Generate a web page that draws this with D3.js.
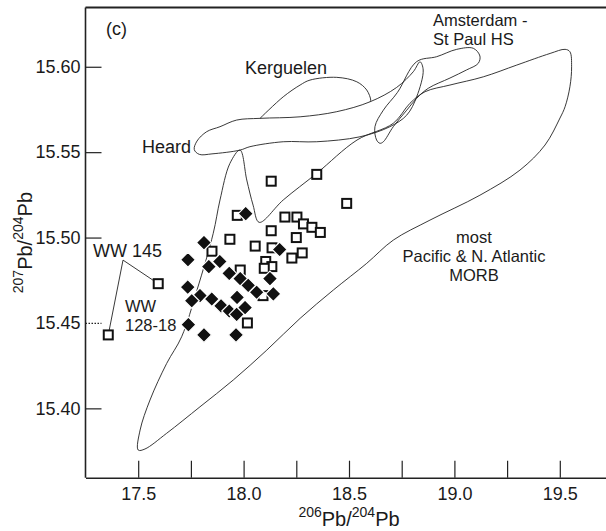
<!DOCTYPE html>
<html><head><meta charset="utf-8">
<script src="https://cdn.jsdelivr.net/npm/d3@7/dist/d3.min.js"></script>
<style>
html,body{margin:0;padding:0;background:#fff;}
text{font-family:"Liberation Sans",Arial,Helvetica,sans-serif;fill:#1a1a1a;}
</style></head>
<body>
<script>
// ---------- data ----------
const xTicksMajor = [17.5, 18.0, 18.5, 19.0, 19.5];
const xTicksMinor = [17.75, 18.25, 18.75, 19.25];
const yTicks = [15.40, 15.45, 15.50, 15.55, 15.60];

// open squares (206Pb/204Pb, 207Pb/204Pb)
const openX = [18.131,18.347,18.489,17.970,18.196,18.253,18.284,18.324,18.364,18.131,17.935,18.055,18.250,18.135,18.278,18.229,18.105,18.134,18.098,17.984,17.595,17.358,18.018,17.850,18.092];
const openY = [15.533,15.537,15.520,15.513,15.512,15.512,15.508,15.506,15.503,15.504,15.499,15.495,15.500,15.494,15.491,15.488,15.486,15.483,15.482,15.481,15.473,15.443,15.450,15.492,15.466];

// filled diamonds
const filledX = [18.010,18.171,17.812,17.736,17.887,17.835,17.932,17.984,18.125,17.735,18.022,17.793,17.754,17.849,17.969,18.062,18.141,17.893,17.932,18.007,17.967,17.738,17.812,17.964];
const filledY = [15.514,15.493,15.497,15.487,15.486,15.483,15.479,15.476,15.476,15.471,15.472,15.466,15.463,15.464,15.465,15.468,15.467,15.460,15.457,15.459,15.455,15.449,15.443,15.443];

// field outlines
const morbField = [[17.500,15.3756],[17.509,15.3873],[17.556,15.4049],[17.635,15.4263],[17.706,15.4419],[17.779,15.4693],[17.856,15.5025],[17.888,15.5220],[17.935,15.5434],[17.983,15.5512],[18.015,15.5337],[18.045,15.5190],[18.074,15.5089],[18.188,15.5220],[18.347,15.5376],[18.538,15.5571],[18.710,15.5669],[18.789,15.5786],[18.861,15.5854],[18.979,15.5893],[19.137,15.5941],[19.296,15.6010],[19.454,15.6078],[19.525,15.6102],[19.548,15.6088],[19.556,15.6000],[19.548,15.5883],[19.525,15.5766],[19.501,15.5700],[19.430,15.5542],[19.311,15.5395],[19.121,15.5248],[18.884,15.5102],[18.710,15.4985],[18.584,15.4849],[18.426,15.4693],[18.268,15.4527],[18.110,15.4341],[17.951,15.4166],[17.793,15.4009],[17.635,15.3854],[17.532,15.3762]];
const heardBand = [[17.766,15.5515],[17.779,15.5565],[17.825,15.5620],[17.888,15.5649],[17.967,15.5688],[18.078,15.5698],[18.268,15.5707],[18.442,15.5737],[18.600,15.5795],[18.726,15.5879],[18.805,15.5971],[18.837,15.6029],[18.852,15.5981],[18.821,15.5824],[18.774,15.5717],[18.694,15.5649],[18.552,15.5590],[18.347,15.5561],[18.188,15.5561],[18.030,15.5532],[17.983,15.5512],[17.850,15.5490],[17.790,15.5487]];
const kerguelenField = [[18.078,15.5698],[18.188,15.5824],[18.268,15.5893],[18.315,15.5922],[18.442,15.5938],[18.537,15.5912],[18.584,15.5864],[18.603,15.5805],[18.600,15.5795]];
const amsterdamField = [[18.647,15.5552],[18.631,15.5571],[18.623,15.5649],[18.663,15.5746],[18.730,15.5850],[18.821,15.6030],[18.916,15.6059],[19.011,15.6102],[19.090,15.6108],[19.121,15.6063],[19.113,15.6020],[19.057,15.5981],[18.979,15.5934],[18.876,15.5874],[18.821,15.5815],[18.774,15.5746],[18.710,15.5649],[18.663,15.5561]];
const leaderFrom = [17.428, 15.4868];
const leaderTo = [[17.595,15.473],[17.358,15.443]];

// ---------- drawing ----------
const W = 606, H = 531;
const x = d3.scaleLinear().domain([17.25, 19.75]).range([85.5, 612.5]);
const y = d3.scaleLinear().domain([15.3594, 15.6347]).range([477.7, 7.5]);

const svg = d3.select("body").append("svg").attr("width", W).attr("height", H)
  .style("display","block");

const line = d3.line().x(d => x(d[0])).y(d => y(d[1]));
const ink = "#222";

// fields
svg.append("path").datum(morbField)
  .attr("d", line.curve(d3.curveCatmullRomClosed.alpha(0.5)))
  .attr("fill","none").attr("stroke",ink).attr("stroke-width",0.9);
svg.append("path").datum(heardBand)
  .attr("d", line.curve(d3.curveCatmullRomClosed.alpha(0.5)))
  .attr("fill","none").attr("stroke",ink).attr("stroke-width",0.9);
svg.append("path").datum(kerguelenField)
  .attr("d", line.curve(d3.curveCatmullRom.alpha(0.5)))
  .attr("fill","none").attr("stroke",ink).attr("stroke-width",0.9);
svg.append("path").datum(amsterdamField)
  .attr("d", line.curve(d3.curveCatmullRomClosed.alpha(0.5)))
  .attr("fill","none").attr("stroke",ink).attr("stroke-width",0.9);

// leader lines
svg.append("g").selectAll("line").data(leaderTo).join("line")
  .attr("x1", x(leaderFrom[0])).attr("y1", y(leaderFrom[1]))
  .attr("x2", d => x(d[0])).attr("y2", d => y(d[1]))
  .attr("stroke", ink).attr("stroke-width", 0.9);

// axes frame
const frame = svg.append("g");
frame.append("line").attr("x1", x(17.25)).attr("x2", x(17.25)).attr("y1", y.range()[1]).attr("y2", y.range()[0])
  .attr("stroke", ink).attr("stroke-width", 1.6);
frame.append("line").attr("x1", x(17.25)).attr("x2", x(19.75)).attr("y1", y.range()[1]).attr("y2", y.range()[1])
  .attr("stroke", ink).attr("stroke-width", 1.8);

// x axis
const xAxis = svg.append("g").attr("transform", `translate(0,${y.range()[0]})`)
  .call(d3.axisBottom(x).tickValues(xTicksMajor.concat(xTicksMinor))
    .tickSizeInner(-17).tickSizeOuter(0).tickPadding(10)
    .tickFormat(d => xTicksMajor.includes(d) ? d3.format(".1f")(d) : ""));
xAxis.select(".domain").attr("stroke", ink).attr("stroke-width", 1.6);
xAxis.selectAll(".tick line").attr("stroke", ink).attr("stroke-width", 1.2);
xAxis.selectAll("text").attr("font-size", 18).style("font-family", '"Liberation Sans",Arial,sans-serif').attr("fill", "#1a1a1a");

// y axis
const yAxis = svg.append("g").attr("transform", `translate(${x(17.25)},0)`)
  .call(d3.axisLeft(y).tickValues(yTicks).tickSizeInner(-16).tickSizeOuter(0).tickPadding(5)
    .tickFormat(d3.format(".2f")));
yAxis.select(".domain").remove();
yAxis.selectAll(".tick line").attr("stroke", ink).attr("stroke-width", 1.2)
  .attr("stroke-dasharray", d => d === 15.45 ? "1.5,1.5" : null);
yAxis.selectAll("text").attr("font-size", 18).style("font-family", '"Liberation Sans",Arial,sans-serif').attr("fill", "#1a1a1a");

// symbols: squares then diamonds
const sq = 9;
svg.append("g").selectAll("rect").data(openX).join("rect")
  .attr("x", (d, i) => x(d) - sq / 2).attr("y", (d, i) => y(openY[i]) - sq / 2)
  .attr("width", sq).attr("height", sq)
  .attr("fill", "#fff").attr("stroke", "#111").attr("stroke-width", 2);

const dm = 7.5;
svg.append("g").selectAll("path").data(filledX).join("path")
  .attr("d", (d, i) => {
    const cx = x(d), cy = y(filledY[i]);
    return `M${cx},${cy - dm}L${cx + dm},${cy}L${cx},${cy + dm}L${cx - dm},${cy}Z`;
  })
  .attr("fill", "#111").attr("stroke", "#fff").attr("stroke-width", 1.2);

// labels
const lab = (t, px, py, anchor, fs) => svg.append("text").attr("x", px).attr("y", py)
  .attr("font-size", fs || 18).attr("text-anchor", anchor || "start").text(t);
lab("(c)", 106, 35);
lab("Kerguelen", 245, 74);
lab("Heard", 142, 153);
lab("Amsterdam -", 433, 26, "start", 16.5);
lab("St Paul HS", 433, 45, "start", 16.5);
lab("most", 474, 243, "middle", 16.5);
lab("Pacific & N. Atlantic", 474, 262, "middle", 16.5);
lab("MORB", 474, 281, "middle", 16.5);
lab("WW 145", 93, 257);
lab("WW", 125, 312, "start", 16.5);
lab("128-18", 125, 331, "start", 16.5);

// axis titles
const xt = svg.append("text").attr("x", (x(17.25) + x(19.75)) / 2).attr("y", 526)
  .attr("text-anchor", "middle").attr("font-size", 20);
xt.append("tspan").attr("font-size", 14).attr("dy", -9).text("206");
xt.append("tspan").attr("dy", 9).text("Pb/");
xt.append("tspan").attr("font-size", 14).attr("dy", -9).text("204");
xt.append("tspan").attr("dy", 9).text("Pb");

const yt = svg.append("text").attr("transform", `translate(32,${(y.range()[0] + y.range()[1]) / 2}) rotate(-90)`)
  .attr("text-anchor", "middle").attr("font-size", 20);
yt.append("tspan").attr("font-size", 14).attr("dy", -9).text("207");
yt.append("tspan").attr("dy", 9).text("Pb/");
yt.append("tspan").attr("font-size", 14).attr("dy", -9).text("204");
yt.append("tspan").attr("dy", 9).text("Pb");
</script>
</body></html>
